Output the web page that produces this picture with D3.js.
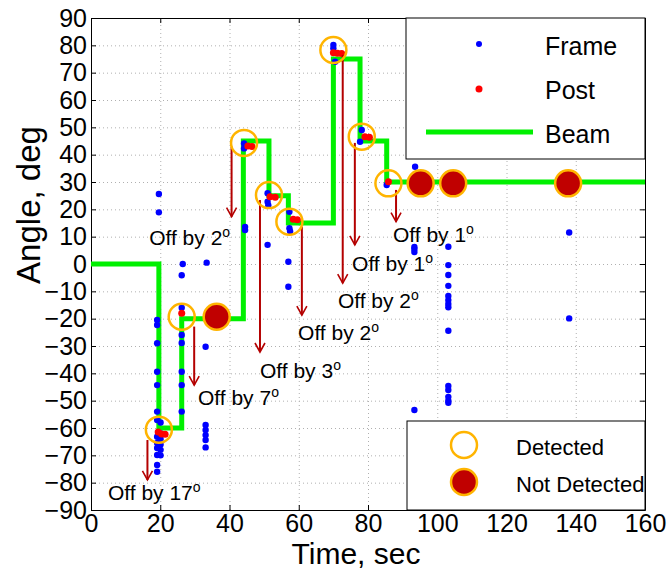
<!DOCTYPE html>
<html lang="en">
<head>
    <meta charset="UTF-8">
    <title>Beam angle vs time</title>
    <script src="https://d3js.org/d3.v7.min.js"></script>
    <style>
        body { margin: 0; background: #fff; }
        text { font-family: "Liberation Sans", Arial, Helvetica, sans-serif; fill: #000; }
    </style>
</head>
<body>
    <script>
        // ---- data ----
        const xTicks = [0, 20, 40, 60, 80, 100, 120, 140, 160];
        const yTicks = d3.range(-90, 91, 10);

        // beam: step function (time where each level starts)
        const beamTimes = [0, 19.6, 26.2, 44.0, 51.4, 57.0, 70.0, 77.7, 85.4, 160];
        const beamAngles = [0, -60, -20, 45, 25, 15, 75, 45, 30, 30];

        // frame measurements (blue)
        const frameTimes = [19.6, 19.6, 26.5, 26.2, 33.4, 26.2, 19.1, 19.1, 19.1, 19.1, 19.1, 19.1, 19.1, 19.1,
            19.1, 19.1, 19.1, 19.1, 19.1, 20.1, 20.1, 20.1, 20.1, 20.1, 20.1, 26.2, 26.2, 26.2, 26.2, 26.2,
            33.1, 33.1, 33.1, 33.1, 33.1, 33.1, 44.2, 44.2, 44.5, 44.5, 51.0, 51.0, 51.2, 51.0, 57.3, 57.3,
            57.5, 57.0, 57.0, 70.0, 70.0, 70.5, 77.7, 78.2, 85.4, 93.6, 93.4, 93.4, 93.4, 93.4,
            103.2, 103.2, 103.2, 103.2, 103.2, 103.2, 103.2, 103.2, 103.2, 103.2, 103.2, 103.2, 103.2, 103.2,
            138.1, 138.1];
        const frameAngles = [25.6, 18.9, 0, -4.1, 0.5, -16.0, -20.5, -22.3, -29, -39.4, -44.3, -54, -57.1, -63.2,
            -65.5, -67.3, -69.9, -73.5, -76, -58, -62, -64, -66, -68, -70, -26, -28.9, -39.4, -44.3, -54,
            -30.3, -58.9, -60.7, -62.6, -64.4, -67.1, 44.1, 42.3, 13.6, 12.4, 25.9, 22.8, 21.5, 7.0, 19.1, 13.1,
            12.0, 0.8, -8.3, 80.1, 78.9, 74.0, 44.7, 49.0, 28.9, 35.6, 6.2, 5.5, 4.4, -53.4,
            6.3, -0.4, -4.0, -8.0, -11.7, -13.2, -14.6, -15.8, -24.4, -44.6, -46.1, -48.6, -50.0, -50.8,
            11.5, -19.9];

        // post-processed estimates (red)
        const postTimes = [19.4, 20.4, 21.4, 26.2, 45.3, 46.5, 51.7, 53.2, 58.4, 59.6, 70.0, 71.2, 72.4, 79.1, 80.4, 85.9];
        const postAngles = [-61.5, -62.2, -62.3, -18, 43.2, 43.0, 24.6, 24.4, 16.4, 16.2, 77.3, 77.1, 77.0, 46.6, 46.4, 30.1];

        // detection markers
        const detectedTimes = [19.6, 26.2, 44.2, 51.4, 57.3, 70.0, 78.2, 85.9];
        const detectedAngles = [-60.6, -19.3, 44.3, 25.2, 15.5, 78.3, 46.6, 29.5];
        const missedTimes = [36.3, 95.2, 104.6, 137.8];
        const missedAngles = [-19.3, 29.5, 29.5, 29.5];

        // "Off by" arrows
        const offTimes = [16.3, 29.8, 40.6, 48.8, 60.9, 72.7, 76.2, 88.1];
        const offFrom = [-64.4, -22.9, 42.9, 23.4, 13.6, 76.5, 44.3, 27.1];
        const offTo = [-79, -44.3, 17.3, -32.2, -18.7, -7.0, 7.0, 15.5];
        const offValues = [17, 7, 2, 3, 2, 2, 1, 1];
        const offLabelTimes = [4.9, 30.9, 16.8, 48.8, 59.8, 71.3, 75.4, 87.2];
        const offLabelAngles = [-86.3, -51.6, 7.0, -41.7, -27.8, -16.1, -2.6, 8.0];

        // ---- layout ----
        const width = 667, height = 571;
        const plotL = 91, plotR = 645, plotT = 18, plotB = 510;

        const GREEN = '#00f000', BLUE = '#0000ff', RED = '#ff0000';
        const DARKRED = '#c00000', ORANGE = '#ffb400', ARROW = '#b40000';

        const svg = d3.select('body').append('svg')
            .attr('width', width)
            .attr('height', height);

        const x = d3.scaleLinear().domain([0, 160]).range([plotL, plotR]);
        const y = d3.scaleLinear().domain([-90, 90]).range([plotB, plotT]);

        // grid
        const grid = svg.append('g');
        grid.append('g').attr('transform', `translate(0,${plotB})`)
            .call(d3.axisBottom(x).tickValues(xTicks.slice(1, -1)).tickSize(-(plotB - plotT)).tickFormat(''));
        grid.append('g').attr('transform', `translate(${plotL},0)`)
            .call(d3.axisLeft(y).tickValues(yTicks.slice(1, -1)).tickSize(-(plotR - plotL)).tickFormat(''));
        grid.selectAll('.domain').remove();
        grid.selectAll('line').attr('stroke', '#b0b0b0').attr('stroke-dasharray', '1,3');

        // axes with inside ticks
        const fmt = d3.format('d');
        const ax = svg.append('g').attr('class', 'axes');
        ax.append('g').attr('transform', `translate(0,${plotB})`)
            .call(d3.axisBottom(x).tickValues(xTicks).tickSizeInner(-5).tickSizeOuter(0).tickPadding(4).tickFormat(fmt));
        ax.append('g').attr('transform', `translate(0,${plotT})`)
            .call(d3.axisTop(x).tickValues(xTicks).tickSizeInner(-5).tickSizeOuter(0).tickFormat(''));
        ax.append('g').attr('transform', `translate(${plotL},0)`)
            .call(d3.axisLeft(y).tickValues(yTicks).tickSizeInner(-5).tickSizeOuter(0).tickPadding(4).tickFormat(fmt));
        ax.append('g').attr('transform', `translate(${plotR},0)`)
            .call(d3.axisRight(y).tickValues(yTicks).tickSizeInner(-5).tickSizeOuter(0).tickFormat(''));
        ax.selectAll('.domain').attr('stroke', '#000');
        ax.selectAll('.tick line').attr('stroke', '#000');
        ax.selectAll('.tick text').attr('font-size', 25).attr('font-family', '"Liberation Sans", Arial, sans-serif');

        // beam step line
        const beamPts = beamTimes.map((t, i) => ({ t, a: beamAngles[i] }));
        svg.append('path')
            .datum(beamPts)
            .attr('fill', 'none')
            .attr('stroke', GREEN)
            .attr('stroke-width', 5)
            .attr('d', d3.line().x(d => x(d.t)).y(d => y(d.a)).curve(d3.curveStepAfter));

        // frame dots
        svg.append('g').selectAll('circle')
            .data(frameTimes.map((t, i) => ({ t, a: frameAngles[i] })))
            .enter().append('circle')
            .attr('cx', d => x(d.t)).attr('cy', d => y(d.a)).attr('r', 3.2)
            .attr('fill', BLUE);

        // post dots
        svg.append('g').selectAll('circle')
            .data(postTimes.map((t, i) => ({ t, a: postAngles[i] })))
            .enter().append('circle')
            .attr('cx', d => x(d.t)).attr('cy', d => y(d.a)).attr('r', 3.5)
            .attr('fill', RED);

        // arrows
        const arrows = offTimes.map((t, i) => ({ t, from: offFrom[i], to: offTo[i] }));
        const ag = svg.append('g').attr('stroke', ARROW).attr('fill', 'none');
        ag.selectAll('line')
            .data(arrows)
            .enter().append('line')
            .attr('x1', d => x(d.t)).attr('x2', d => x(d.t))
            .attr('y1', d => y(d.from)).attr('y2', d => y(d.to))
            .attr('stroke-width', 2);
        ag.selectAll('path')
            .data(arrows)
            .enter().append('path')
            .attr('stroke-width', 1.6)
            .attr('d', d => {
                const px = x(d.t), py = y(d.to);
                return `M${px - 5},${py - 9} L${px},${py} L${px + 5},${py - 9}`;
            });

        // labels "Off by N°"
        const lbl = svg.append('g').selectAll('text')
            .data(offValues.map((v, i) => ({ v, t: offLabelTimes[i], a: offLabelAngles[i] })))
            .enter().append('text')
            .attr('x', d => x(d.t)).attr('y', d => y(d.a))
            .attr('font-size', 21);
        lbl.append('tspan').text(d => 'Off by ' + d.v);
        lbl.append('tspan').attr('dy', -8).attr('font-size', 14).text('o');

        // detected / not detected markers
        svg.append('g').selectAll('circle')
            .data(detectedTimes.map((t, i) => ({ t, a: detectedAngles[i] })))
            .enter().append('circle')
            .attr('cx', d => x(d.t)).attr('cy', d => y(d.a)).attr('r', 13)
            .attr('fill', 'none').attr('stroke', ORANGE).attr('stroke-width', 2.5);
        svg.append('g').selectAll('circle')
            .data(missedTimes.map((t, i) => ({ t, a: missedAngles[i] })))
            .enter().append('circle')
            .attr('cx', d => x(d.t)).attr('cy', d => y(d.a)).attr('r', 13)
            .attr('fill', DARKRED).attr('stroke', ORANGE).attr('stroke-width', 2.5);

        // axis titles
        svg.append('text')
            .attr('x', 356).attr('y', 564)
            .attr('text-anchor', 'middle')
            .attr('font-size', 30)
            .text('Time, sec');
        svg.append('text')
            .attr('transform', 'translate(40,205) rotate(-90)')
            .attr('text-anchor', 'middle')
            .attr('font-size', 33)
            .text('Angle, deg');

        // legend 1
        const lg1 = svg.append('g');
        lg1.append('rect').attr('x', 406).attr('y', 18).attr('width', 239).attr('height', 141)
            .attr('fill', '#fff').attr('stroke', '#000').attr('stroke-width', 1);
        lg1.append('circle').attr('cx', 479).attr('cy', 44).attr('r', 3).attr('fill', BLUE);
        lg1.append('circle').attr('cx', 479).attr('cy', 89).attr('r', 3.5).attr('fill', RED);
        lg1.append('line').attr('x1', 426).attr('x2', 533).attr('y1', 132).attr('y2', 132)
            .attr('stroke', GREEN).attr('stroke-width', 5);
        [['Frame', 55], ['Post', 99], ['Beam', 143]].forEach(([s, yy]) => {
            lg1.append('text').attr('x', 545).attr('y', yy).attr('font-size', 25).text(s);
        });

        // legend 2
        const lg2 = svg.append('g');
        lg2.append('rect').attr('x', 407).attr('y', 421).attr('width', 238).attr('height', 89)
            .attr('fill', '#fff').attr('stroke', '#000').attr('stroke-width', 1);
        lg2.append('circle').attr('cx', 464).attr('cy', 445).attr('r', 13)
            .attr('fill', 'none').attr('stroke', ORANGE).attr('stroke-width', 2.5);
        lg2.append('circle').attr('cx', 464).attr('cy', 482).attr('r', 13)
            .attr('fill', DARKRED).attr('stroke', ORANGE).attr('stroke-width', 2.5);
        lg2.append('text').attr('x', 516).attr('y', 455).attr('font-size', 22).text('Detected');
        lg2.append('text').attr('x', 516).attr('y', 492).attr('font-size', 22).text('Not Detected');
    </script>
</body>
</html>
